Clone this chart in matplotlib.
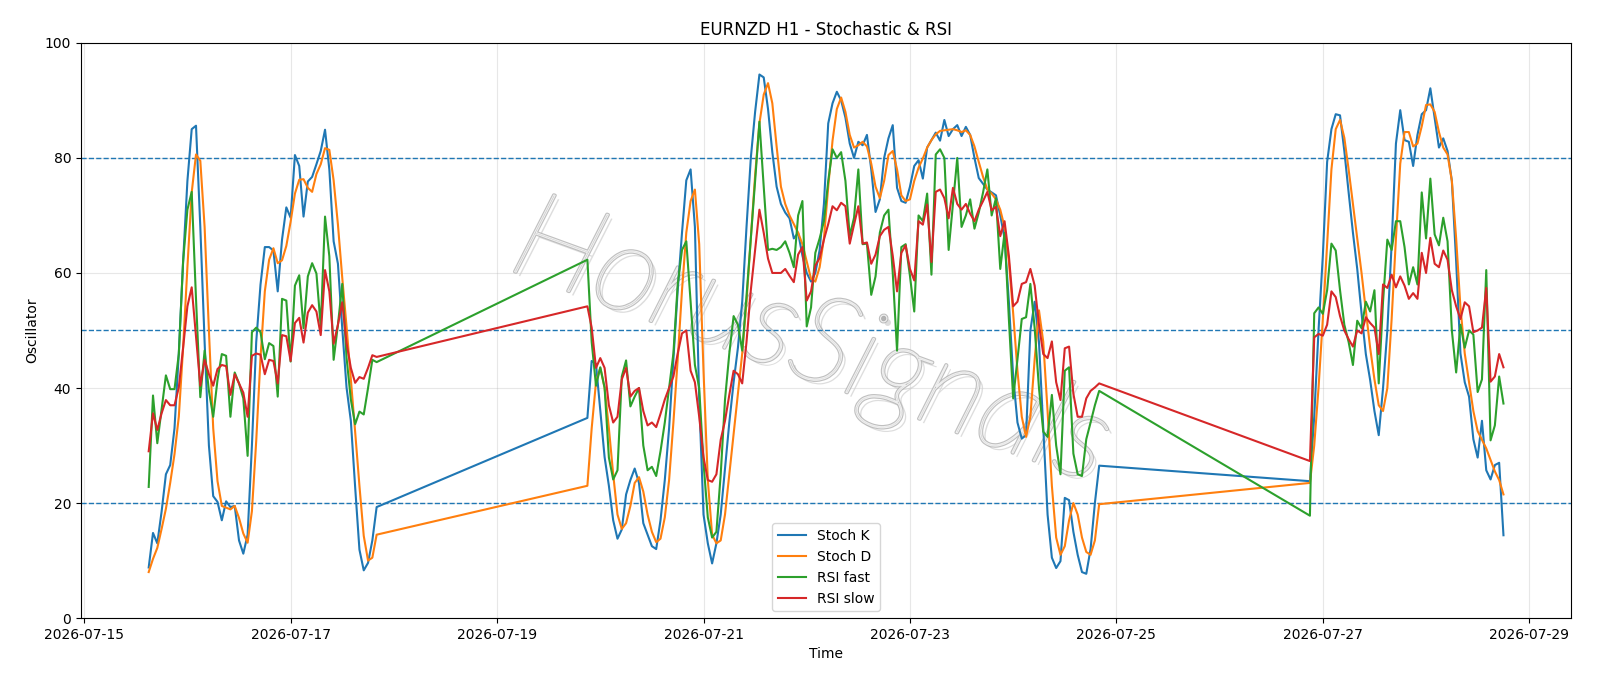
import matplotlib
matplotlib.use("Agg")
import matplotlib.pyplot as plt
import matplotlib.dates as mdates
import matplotlib.patheffects as pe
from matplotlib import font_manager as fm
import pandas as pd
import numpy as np

# ---------------- data (hourly, three trading blocks) ----------------
seg_starts = ["2026-07-15 15:00", "2026-07-19 21:00", "2026-07-26 21:00"]

k_seg1 = [8.8, 14.8, 13.0, 18.5, 25.0, 26.6, 33, 46, 62, 76, 85.0, 85.6, 68, 48, 30, 21.2, 20.2, 17.0,
          20.3, 19.3, 19.5, 13.5, 11.2, 14.5, 30, 48, 58, 64.5, 64.5, 63.9, 56.8, 65.8, 71.4, 69.6, 80.5,
          78.6, 69.8, 75.9, 76.7, 78.9, 81.2, 84.9, 78, 65.5, 61.6, 50.4, 40.1, 34.3, 22.8, 11.9, 8.3,
          9.6, 13.5, 19.3]
d_seg1 = [8.0, 10.3, 12.2, 15.5, 19.0, 23.5, 28.5, 35, 47, 61, 74, 80.6, 79.5, 68, 50, 33, 23.8, 19.5,
          19.2, 18.9, 19.5, 17.4, 14.7, 13.1, 18.6, 30.8, 45.3, 56.8, 62.3, 64.3, 61.7, 62.2, 64.7, 68.9,
          73.8, 76.2, 76.3, 74.8, 74.1, 77.2, 78.9, 81.7, 81.4, 76.1, 68.4, 59.2, 50.7, 41.6, 32.4, 23.0,
          14.3, 10.0, 10.5, 14.5]
rf_seg1 = [22.8, 38.7, 30.4, 36.3, 42.2, 39.8, 39.8, 45.9, 62, 71, 74.1, 55.5, 38.4, 46.5, 39.5, 35,
           41.4, 45.9, 45.6, 35, 42.7, 40.8, 38.2, 28.2, 49.7, 50.5, 49.7, 45, 47.8, 47.3, 38.5, 55.5,
           55.2, 44.6, 57.8, 59.6, 50.4, 59.4, 61.7, 59.9, 50.7, 69.8, 62.9, 44.9, 51.0, 58.1, 45.3, 38,
           33.7, 35.9, 35.4, 40, 44.9, 44.5]
rs_seg1 = [29.0, 35.6, 32.7, 35.6, 37.9, 37.0, 37.0, 40.1, 47, 54.2, 57.5, 49, 40.4, 44.9, 42.4, 40.4,
           43.3, 44, 43.8, 38.8, 42.4, 40.8, 39.2, 35, 45.6, 46, 45.8, 42.4, 44.9, 44.7, 40.8, 49.2,
           49.0, 44.7, 51.3, 52.2, 47.9, 53.1, 54.4, 53.3, 49.2, 60.5, 56.8, 47.7, 51, 54.9, 47.8, 43.5,
           40.9, 41.9, 41.6, 43.5, 45.7, 45.4]

k_seg2 = [34.8, 44.7, 44.2, 36, 28, 23, 17, 13.8, 15.4, 21.5, 24, 26, 23.5, 16.5, 14.5, 12.5, 12.0, 17,
          24, 33, 45, 57, 67, 76.1, 78.0, 68, 38, 18, 13, 9.5, 13, 18, 26, 34, 41, 47, 55, 68, 80, 88,
          94.5, 94, 88.5, 81, 75, 72, 70.5, 69.5, 66, 67, 63, 60, 58.5, 60, 64, 72, 86, 89.5, 91.5, 90,
          87, 82.5, 80, 82.8, 82.2, 84, 78, 70.6, 72.8, 80, 83.4, 85.7, 74.8, 72.5, 72.2, 75, 78.6, 79.6,
          76.4, 81.8, 83.1, 84.4, 83, 86.6, 83.8, 85, 85.7, 83.8, 85.4, 84, 80, 76.5, 75.5, 74.5, 74,
          73.5, 70, 66, 55, 42, 34, 31.2, 31.8, 50, 55, 48, 33, 18, 10.5, 8.7, 9.9, 20.9, 20.5, 15, 11,
          8, 7.7, 12, 20, 26.5]
d_seg2 = [23, 33, 41, 43.5, 40, 33, 25, 18, 15.5, 16.5, 19.5, 23.5, 24.5, 22, 18, 15, 13.2, 13.8, 17.5,
          24, 34, 45, 57, 67, 72.5, 74.5, 65, 43, 24, 14.5, 13, 13.5, 18, 25, 32, 39, 46, 55, 66, 77, 86,
          91, 93, 89.5, 82, 75, 72, 70, 68.5, 67, 65, 62, 59, 58.5, 61, 66, 75, 83, 88.5, 90.5, 88, 84,
          81.8, 82.2, 82.8, 82, 79, 75, 73, 76, 80.5, 81.2, 78, 73.5, 72.5, 72.8, 76, 78.3, 79.9, 81.8,
          83.1, 84.1, 84.7, 84.8, 84.9, 85, 84.8, 84.5, 84.8, 84, 82, 79.3, 76.7, 74.5, 73.8, 72.8, 71,
          68, 62, 53, 43, 35, 31.5, 35, 45, 53.5, 48, 36, 23, 14, 11, 12.5, 17, 20, 18, 14, 11.5, 11,
          13.5, 19.8]
rf_seg2 = [62.3, 48, 40.4, 43.6, 40.1, 27.9, 24.1, 25.7, 42, 44.8, 36.8, 38.5, 40, 30, 25.7, 26.3, 24.7,
           29, 34, 40, 46, 58, 64, 65.5, 55, 44, 40, 27, 17.5, 14, 15, 25, 38, 46, 52.5, 51, 46.5, 56,
           66, 76, 86.3, 75, 64, 64.2, 64, 64.5, 65.5, 63.5, 61, 70, 72.5, 50.7, 54, 63.5, 66, 69, 76,
           81.5, 80, 81, 76, 66.4, 69.6, 78, 65, 65.1, 56.2, 59.4, 67, 70, 71, 60, 46.5, 64.5, 65, 59.5,
           53.3, 70, 69, 73.8, 59.7, 80.6, 81.5, 80, 64, 72, 80, 68, 70, 72.8, 67.7, 70.5, 74, 78, 70,
           73, 60.7, 67, 52, 38.2, 45, 52, 52.3, 58.1, 50.4, 40, 32.4, 31.5, 38.8, 30, 25, 43, 43.6,
           28.6, 25, 24.7, 31.1, 34, 37, 39.5]
rs_seg2 = [54.2, 50.5, 43.5, 45.2, 43.5, 37, 34, 35, 41.5, 43.5, 38.5, 39.5, 40, 36, 33.5, 34, 33.2,
           35.5, 38, 40, 42, 46, 49.5, 50, 43, 41, 35, 28, 24, 23.7, 25, 31, 34.3, 38.8, 43, 42.4, 40.8,
           48, 57, 64, 71, 67, 62.5, 60, 60, 60, 60.7, 59.5, 58.4, 63.2, 64.5, 55.2, 56.8, 61.3, 62.6,
           65.8, 68.5, 71.6, 70.9, 72.2, 71.6, 65.1, 68.4, 71.6, 65.1, 65.3, 61.6, 63.2, 66.4, 67.5, 68,
           63, 56.8, 63.5, 64.8, 60.7, 58.7, 69, 68.4, 71.9, 61.9, 74.1, 74.5, 73, 69.5, 74.8, 72, 71,
           72, 70.3, 69, 71, 72.5, 74.1, 70.9, 71.5, 66.4, 69, 63, 54.2, 55, 58.1, 58.4, 60.7, 57.8, 51,
           45.9, 45.2, 48.1, 41, 37.9, 46.9, 47.2, 39, 35, 35, 38.2, 39.5, 40.1, 40.8]

k_seg3 = [23.8, 35, 50, 63, 79.3, 85, 87.6, 87.4, 81.2, 74, 67, 60.7, 53, 45.9, 41.4, 36, 31.8, 40, 50,
          65, 82.5, 88.3, 83.1, 82.8, 78.6, 84, 87.6, 88.3, 92.1, 87, 81.8, 83.4, 81.2, 76, 62, 46, 41,
          38.5, 31.1, 27.9, 34.3, 25.7, 24.1, 26.6, 27, 14.4]
d_seg3 = [23.5, 30, 40, 52, 65, 78, 85, 86.6, 83.5, 78, 72, 66, 60, 53.5, 47, 41.5, 37, 36, 40, 52, 66,
          79, 84.5, 84.5, 82, 82.5, 85.5, 89.2, 89.3, 88, 84.5, 81.8, 80.6, 76, 66, 54, 46, 41, 36,
          32.5, 31, 29.5, 27.5, 25.5, 24, 21.5]
rf_seg3 = [17.8, 53, 54, 52.9, 57, 65.1, 63.9, 57, 51, 48, 44, 51.7, 50.4, 55, 53.3, 57, 40.8, 55, 65.8,
           64, 69, 69, 64.5, 58, 61, 58, 74, 66, 76.4, 66.7, 64.8, 69.6, 65.5, 50, 42.7, 51, 47, 50,
           49.3, 39.3, 41.5, 60.5, 30.9, 33.5, 42, 37.3]
rs_seg3 = [27.3, 48.8, 49.4, 49.1, 51, 56.8, 55.8, 52.5, 50, 48.5, 47.2, 50, 49.5, 52.3, 51.3, 50.5,
           45.9, 58, 57.4, 59.7, 57.5, 59.4, 57.8, 55.5, 56.5, 55.5, 63.5, 60, 66.1, 61.6, 61, 63.9,
           62.3, 57, 54.2, 52, 54.9, 54.2, 49.7, 50, 50.5, 57.4, 41.1, 42, 45.9, 43.6]

levels = [20, 50, 80]
title = "EURNZD H1 - Stochastic & RSI"
watermark = "HorusSignals"

# ---------------- build frame ----------------
segments = [(seg_starts[0], k_seg1, d_seg1, rf_seg1, rs_seg1),
            (seg_starts[1], k_seg2, d_seg2, rf_seg2, rs_seg2),
            (seg_starts[2], k_seg3, d_seg3, rf_seg3, rs_seg3)]
frames = []
for start, k, d, rf, rs in segments:
    idx = pd.date_range(start, periods=len(k), freq="h")
    frames.append(pd.DataFrame({"k": k, "d": d, "rf": rf, "rs": rs}, index=idx))
df = pd.concat(frames)

# ---------------- plot ----------------
fig = plt.figure(figsize=(16, 6.86), dpi=100)
ax = fig.add_axes([0.0506, 0.099, 0.9314, 0.8385])

ax.plot(df.index, df["k"], color="C0", lw=1.5, label="Stoch K", zorder=3)
ax.plot(df.index, df["d"], color="C1", lw=1.5, label="Stoch D", zorder=3)
ax.plot(df.index, df["rf"], color="C2", lw=1.5, label="RSI fast", zorder=3)
ax.plot(df.index, df["rs"], color="C3", lw=1.5, label="RSI slow", zorder=3)

for lv in levels:
    ax.axhline(lv, color="C0", ls="--", lw=1, zorder=2.5)

ax.set_ylim(0, 100)
ax.set_yticks(range(0, 101, 20))
ax.grid(True, color="#b0b0b0", alpha=0.3)
ax.set_axisbelow(True)
ax.xaxis.set_major_locator(mdates.DayLocator(bymonthday=range(1, 32, 2)))
ax.xaxis.set_major_formatter(mdates.DateFormatter("%Y-%m-%d"))
ax.set_title(title, fontsize=12)
ax.set_xlabel("Time")
ax.set_ylabel("Oscillator")
ax.legend(loc="lower center", fontsize=10)

# thin italic hollow watermark (Lato hairline/thin if present)
wm_font = fm.FontProperties(family=["Lato", "DejaVu Sans"], style="italic", weight=100, size=88)
ax.text(0.49, 0.475, watermark, transform=ax.transAxes, fontproperties=wm_font,
        rotation=-20, ha="center", va="center",
        color="#b0b0b0", alpha=0.8, zorder=2,
        path_effects=[pe.SimplePatchShadow(offset=(3, -3), shadow_rgbFace="#cfcfcf", alpha=0.7),
                      pe.Stroke(linewidth=2.4, foreground="#b0b0b0"),
                      pe.Stroke(linewidth=0.8, foreground="white")])

fig.savefig("out.png", dpi=100)
